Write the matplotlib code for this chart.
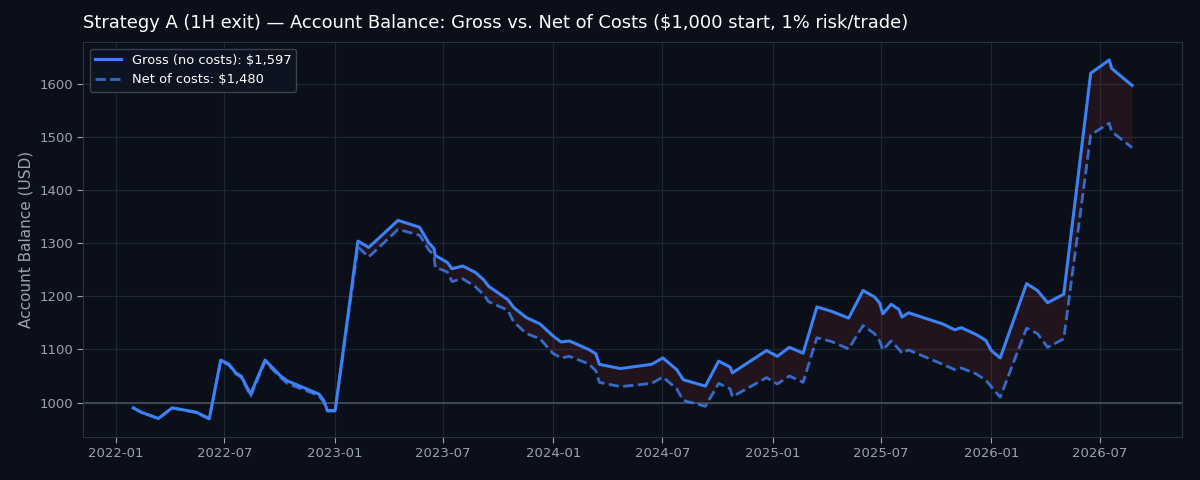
import matplotlib
matplotlib.use("Agg")
import matplotlib.pyplot as plt
import matplotlib.dates as mdates
import pandas as pd

dates = [
    "2022-01-30", "2022-02-12", "2022-03-13", "2022-04-05", "2022-05-15", "2022-06-06",
    "2022-06-25", "2022-07-09", "2022-07-20", "2022-07-29", "2022-08-14", "2022-09-07",
    "2022-10-03", "2022-10-14", "2022-12-06", "2022-12-14", "2022-12-20", "2023-01-02",
    "2023-02-09", "2023-02-27", "2023-04-17", "2023-05-23", "2023-06-07", "2023-06-16",
    "2023-06-18", "2023-07-08", "2023-07-16", "2023-08-03", "2023-08-24", "2023-09-07",
    "2023-09-15", "2023-10-17", "2023-10-27", "2023-11-17", "2023-12-10", "2023-12-31",
    "2024-01-14", "2024-01-28", "2024-02-29", "2024-03-12", "2024-03-18", "2024-04-22",
    "2024-06-13", "2024-07-02", "2024-07-25", "2024-08-05", "2024-09-11", "2024-10-03",
    "2024-10-22", "2024-10-26", "2024-12-22", "2025-01-09", "2025-01-29", "2025-02-21",
    "2025-03-16", "2025-04-09", "2025-05-08", "2025-06-01", "2025-06-20", "2025-06-29",
    "2025-07-04", "2025-07-18", "2025-07-31", "2025-08-05", "2025-08-16", "2025-10-12",
    "2025-11-01", "2025-11-12", "2025-12-07", "2025-12-23", "2026-01-01", "2026-01-16",
    "2026-03-01", "2026-03-19", "2026-04-05", "2026-05-02", "2026-06-16", "2026-07-17",
    "2026-07-21", "2026-08-24",
]

gross = [
    990, 982, 970, 990, 982, 970,
    1080, 1072, 1056, 1050, 1016, 1080,
    1050, 1041, 1016, 1004, 985, 985,
    1304, 1292, 1343, 1330, 1301, 1290,
    1277, 1264, 1252, 1257, 1245, 1231,
    1219, 1194, 1179, 1160, 1148, 1126,
    1114, 1116, 1100, 1092, 1072, 1064,
    1072, 1084, 1062, 1043, 1031, 1078,
    1067, 1056, 1098, 1087, 1104, 1093,
    1180, 1172, 1159, 1211, 1199, 1187,
    1167, 1185, 1175, 1161, 1169, 1148,
    1137, 1141, 1128, 1117, 1098, 1084,
    1224, 1211, 1188, 1204, 1620, 1645,
    1629, 1597,
]

net = [
    990, 982, 970, 990, 981, 969,
    1079, 1070, 1054, 1048, 1012, 1077,
    1047, 1036, 1013, 1001, 984, 984,
    1293, 1274, 1326, 1315, 1288, 1277,
    1255, 1246, 1228, 1233, 1218, 1203,
    1190, 1174, 1152, 1130, 1120, 1093,
    1084, 1087, 1073, 1060, 1038, 1030,
    1036, 1048, 1026, 1004, 993, 1036,
    1026, 1011, 1047, 1035, 1050, 1038,
    1122, 1115, 1101, 1145, 1130, 1115,
    1099, 1116, 1100, 1093, 1099, 1072,
    1062, 1065, 1054, 1042, 1030, 1010,
    1140, 1130, 1104, 1120, 1504, 1526,
    1510, 1480,
]

start_balance = 1000
title = "Strategy A (1H exit) \u2014 Account Balance: Gross vs. Net of Costs (\\$1,000 start, 1% risk/trade)"
gross_label = "Gross (no costs): \\$1,597"
net_label = "Net of costs: \\$1,480"

BG = "#0b0f19"
TXT = "#9aa3b2"

x = pd.to_datetime(dates)

fig = plt.figure(figsize=(12, 4.8), dpi=100, facecolor=BG)
ax = fig.add_axes([0.0694, 0.0896, 0.9156, 0.8229])
ax.set_facecolor(BG)

ax.fill_between(x, net, gross, color="#ef4444", alpha=0.1, linewidth=0)
ax.axhline(start_balance, color="#4b5563", linewidth=1.1, zorder=1)
ax.plot(x, gross, color="#3b82f6", linewidth=2.2, label=gross_label, zorder=3)
ax.plot(x, net, color="#3b82f6", alpha=0.8, linewidth=2.0, linestyle="--", label=net_label, zorder=3)

ax.xaxis.set_major_locator(mdates.MonthLocator(bymonth=[1, 7]))
ax.xaxis.set_major_formatter(mdates.DateFormatter("%Y-%m"))
ax.set_yticks([1000, 1100, 1200, 1300, 1400, 1500, 1600])

ax.grid(True, color="#1e2633", linewidth=0.9)
ax.set_axisbelow(True)
for s in ax.spines.values():
    s.set_color("#2a3240")
ax.tick_params(colors=TXT, labelsize=9.5, length=4)
for lab in ax.get_xticklabels() + ax.get_yticklabels():
    lab.set_color(TXT)

ax.set_ylabel("Account Balance (USD)", color=TXT, fontsize=11)
ax.set_title(title, loc="left", color="white", fontsize=12.9, pad=10)

leg = ax.legend(loc="upper left", fontsize=9.4, facecolor="#0d1320", edgecolor="#3a4250",
                framealpha=1.0)
for t in leg.get_texts():
    t.set_color("white")

fig.savefig("out.png", dpi=100, facecolor=BG)
